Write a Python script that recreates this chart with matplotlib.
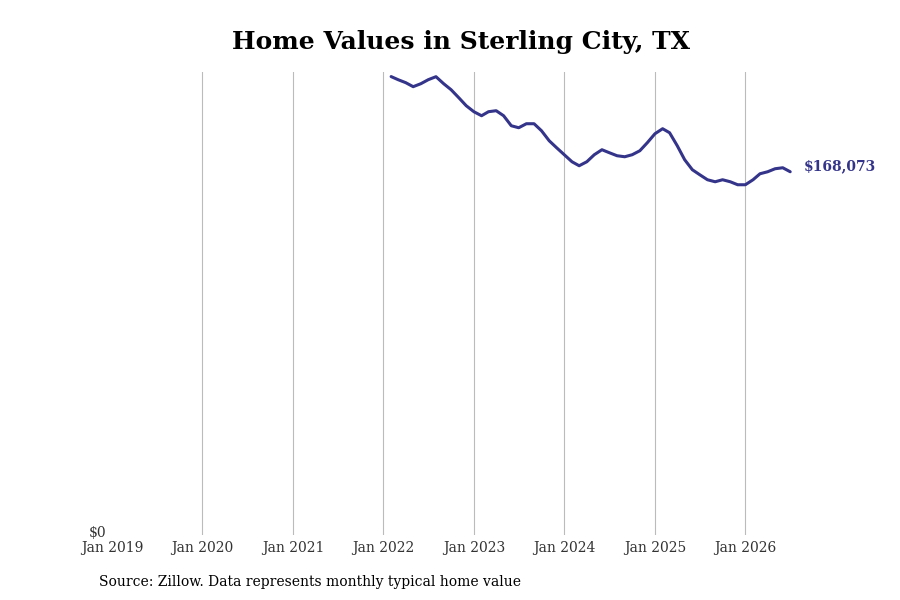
import numpy as np
import pandas as pd
import matplotlib
matplotlib.use("Agg")
import matplotlib.pyplot as plt

# monthly typical home value, Feb 2022 .. Jul 2026
months = pd.date_range("2022-02-01", periods=54, freq="MS")
values = [
    212100, 210670, 209280, 207430, 208810, 210670, 212050, 208810, 206030, 202330, 198630,
    195850, 193990, 195850, 196310, 193990, 189360, 188430, 190290, 190290, 187040, 182420, 179180,
    175940, 172700, 170850, 172700, 175940, 178260, 176870, 175480, 175010, 175940, 177790, 181490,
    185660, 187980, 186130, 180110, 173630, 169000, 166680, 164370, 163440, 164370, 163440, 162060,
    162060, 164370, 167140, 168070, 169460, 169920, 168073,
]
tick_years = list(range(2019, 2027))
title = "Home Values in Sterling City, TX"
source = "Source: Zillow. Data represents monthly typical home value"
line_color = "#34348a"

plt.rcParams["font.family"] = ["DejaVu Serif"]

fig = plt.figure(figsize=(9, 6), dpi=100)
ax = fig.add_axes([0.1244, 0.1083, 0.7536, 0.7717])

ax.plot(months, values, color=line_color, linewidth=2.2, solid_capstyle="round",
        clip_on=False)

ticks = [pd.Timestamp(f"{y}-01-01") for y in tick_years]
ax.set_xticks(ticks)
ax.set_xticklabels([f"Jan {y}" for y in tick_years])
ax.set_xlim(ticks[0], months[-1])
for t in ticks[1:]:
    ax.axvline(t, color="#bbbbbb", linewidth=0.8, zorder=0)

ax.set_ylim(0, max(values) * 1.01)
ax.set_yticks([])
# $0 label drawn by hand, sitting just above the Jan 2019 label
ax.annotate("$0", xy=(0, 0), xycoords="axes fraction", xytext=(-4, -3.5),
            textcoords="offset points", ha="right", va="bottom",
            fontsize=10, color="#333333", annotation_clip=False)

for s in ax.spines.values():
    s.set_visible(False)
ax.tick_params(axis="both", length=0, labelsize=10, labelcolor="#333333")
ax.tick_params(axis="x", pad=4)

ax.annotate(f"${values[-1]:,}", xy=(months[-1], values[-1]), xytext=(10, 4),
            textcoords="offset points", color=line_color, fontsize=10,
            fontweight="bold", va="center", ha="left", annotation_clip=False)

fig.text(0.512, 0.93, title, ha="center", va="center", fontsize=18, fontweight="bold")
fig.text(0.11, 0.03, source, ha="left", va="center", fontsize=10)

fig.savefig("out.png", dpi=100)
